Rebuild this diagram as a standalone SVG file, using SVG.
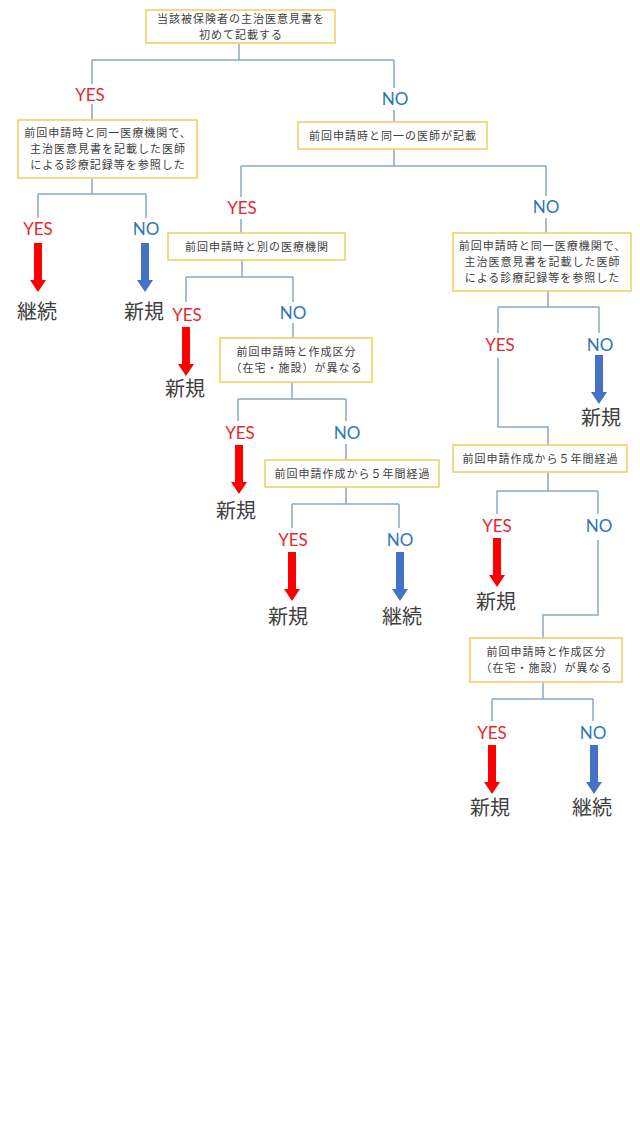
<svg xmlns="http://www.w3.org/2000/svg" xmlns:xlink="http://www.w3.org/1999/xlink" width="640" height="1137" viewBox="0 0 640 1137">
<style>
.bg{fill:#ffffff}
.box{fill:#ffffff;stroke:#F0CF5E;stroke-width:1.5}
.bt{font-family:"Noto Sans CJK JP","Noto Sans",sans-serif;font-size:11px;letter-spacing:1px;fill:#404040;text-anchor:middle}
.ln{fill:none;stroke:#8CA6C6;stroke-width:1.5}
.yes{font-family:Lato,"Liberation Sans",sans-serif;font-size:17px;fill:#E52830;text-anchor:middle}
.no{font-family:Lato,"Liberation Sans",sans-serif;font-size:17px;fill:#2E75B6;text-anchor:middle}
.res{font-family:"Noto Sans CJK JP",sans-serif;font-size:20px;fill:#404040;text-anchor:middle}
.ar{fill:#FF0000}
.ab{fill:#4472C4}
</style>
<defs>
<path id="arrow" d="M-4,0 H4 V37 H8 L0,49 L-8,37 H-4 Z"/>
</defs>
<rect class="bg" x="0" y="0" width="640" height="1137"/>
<g id="connectors">
<path class="ln" d="M239,44 V60 M92,60 H394 M92,60 V84 M92,104 V120 M394,60 V88 M394,110 V122"/>
<path class="ln" d="M92,178 V194 M38,194 H146 M38,194 V218 M146,194 V218"/>
<path class="ln" d="M394,149 V166 M241,166 H546 M241,166 V197 M241,219 V234 M546,166 V196 M546,218 V234"/>
<path class="ln" d="M242,260 V277 M186,277 H293 M186,277 V302 M293,277 V302 M293,323 V338"/>
<path class="ln" d="M292,382 V399 M238,399 H346 M238,399 V421 M346,399 V421 M346,444 V460"/>
<path class="ln" d="M346,487 V504 M292,504 H399 M292,504 V528 M399,504 V528"/>
<path class="ln" d="M548,291 V307 M498,307 H599 M498,307 V333 M599,307 V333 M498,358 V427 H548 V445"/>
<path class="ln" d="M548,472 V491 M497,491 H598 M497,491 V514 M598,491 V514 M598,540 V615 H543 V638"/>
<path class="ln" d="M543,682 V699 M492,699 H593 M492,699 V721 M593,699 V721"/>
</g>
<g id="n1"><rect class="box" x="146" y="10" width="189" height="33"/><text class="bt" x="241" y="22.5">当該被保険者の主治医意見書を</text><text class="bt" x="241" y="38.5">初めて記載する</text></g>
<g id="l1"><text class="yes" x="90" y="101">YES</text><text class="no" x="395" y="105">NO</text></g>
<g id="n2"><rect class="box" x="18" y="120" width="179" height="58"/><text class="bt" x="108" y="137">前回申請時と同一医療機関で、</text><text class="bt" x="108" y="153">主治医意見書を記載した医師</text><text class="bt" x="108" y="169">による診療記録等を参照した</text></g>
<g id="n3"><rect class="box" x="298" y="122" width="189" height="27"/><text class="bt" x="393" y="139.5">前回申請時と同一の医師が記載</text></g>
<g id="r1"><text class="yes" x="38" y="235">YES</text><use href="#arrow" x="38" y="243" class="ar"/><text class="res" x="37" y="319">継続</text></g>
<g id="r2"><text class="no" x="146" y="235">NO</text><use href="#arrow" x="145" y="243" class="ab"/><text class="res" x="144" y="319">新規</text></g>
<g id="l2"><text class="yes" x="242" y="214">YES</text><text class="no" x="546" y="213">NO</text></g>
<g id="n4"><rect class="box" x="168" y="233" width="177" height="27"/><text class="bt" x="257" y="251">前回申請時と別の医療機関</text></g>
<g id="n5"><rect class="box" x="453" y="233" width="178" height="58"/><text class="bt" x="542.5" y="250">前回申請時と同一医療機関で、</text><text class="bt" x="542.5" y="266">主治医意見書を記載した医師</text><text class="bt" x="542.5" y="282">による診療記録等を参照した</text></g>
<g id="r3"><text class="yes" x="187" y="321">YES</text><use href="#arrow" x="186" y="327" class="ar"/><text class="res" x="185" y="396">新規</text></g>
<g id="l3"><text class="no" x="293" y="319">NO</text></g>
<g id="n6"><rect class="box" x="220" y="338" width="152" height="44"/><text class="bt" x="296.5" y="356">前回申請時と作成区分</text><text class="bt" x="296.5" y="372">（在宅・施設）が異なる</text></g>
<g id="r4"><text class="yes" x="240" y="439">YES</text><use href="#arrow" x="239" y="445" class="ar"/><text class="res" x="236" y="518">新規</text></g>
<g id="l4"><text class="no" x="347" y="439">NO</text></g>
<g id="n7"><rect class="box" x="265" y="460" width="174" height="27"/><text class="bt" x="352.5" y="477.5">前回申請作成から５年間経過</text></g>
<g id="r5"><text class="yes" x="293" y="546">YES</text><use href="#arrow" x="292" y="552" class="ar"/><text class="res" x="288" y="624">新規</text></g>
<g id="r6"><text class="no" x="400" y="546">NO</text><use href="#arrow" x="400" y="552" class="ab"/><text class="res" x="402" y="624">継続</text></g>
<g id="l5"><text class="yes" x="500" y="351">YES</text></g>
<g id="r7"><text class="no" x="600" y="351">NO</text><use href="#arrow" x="599" y="355" class="ab"/><text class="res" x="601" y="425">新規</text></g>
<g id="n8"><rect class="box" x="453" y="445" width="174" height="27"/><text class="bt" x="540.5" y="462.5">前回申請作成から５年間経過</text></g>
<g id="r8"><text class="yes" x="497" y="532">YES</text><use href="#arrow" x="497" y="538" class="ar"/><text class="res" x="496" y="609">新規</text></g>
<g id="l6"><text class="no" x="599" y="532">NO</text></g>
<g id="n9"><rect class="box" x="470" y="638" width="152" height="44"/><text class="bt" x="546.5" y="656">前回申請時と作成区分</text><text class="bt" x="546.5" y="672">（在宅・施設）が異なる</text></g>
<g id="r9"><text class="yes" x="492" y="739">YES</text><use href="#arrow" x="492" y="745" class="ar"/><text class="res" x="490" y="815">新規</text></g>
<g id="r10"><text class="no" x="593" y="739">NO</text><use href="#arrow" x="594" y="745" class="ab"/><text class="res" x="592" y="815">継続</text></g>
</svg>
